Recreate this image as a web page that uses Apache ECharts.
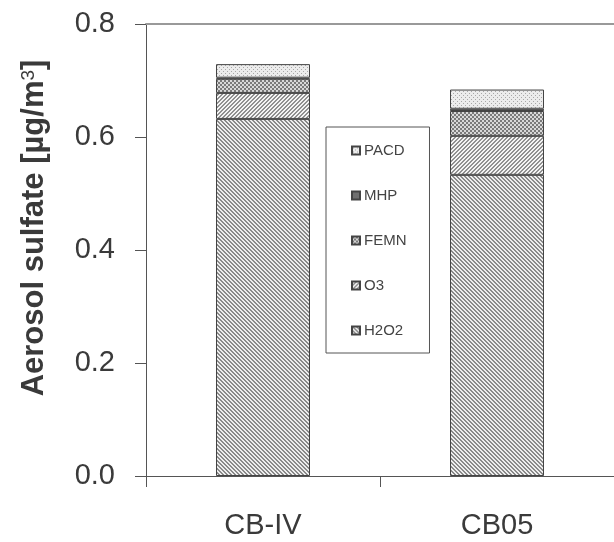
<!DOCTYPE html>
<html>
<head>
<meta charset="utf-8">
<script src="https://cdn.jsdelivr.net/npm/echarts@6/dist/echarts.min.js"></script>
<style>
html,body{margin:0;padding:0;background:#fff;}
#chart{width:614px;height:542px;}
</style>
</head>
<body>
<div id="chart"></div>
<script>
var categories = ['CB-IV', 'CB05'];
var h2o2 = [0.632, 0.533];
var o3 = [0.046, 0.069];
var femn = [0.025, 0.044];
var mhp = [0.002, 0.004];
var pacd = [0.024, 0.034];
var yTicks = [0, 0.8, 0.2]; // min, max, step

// fill patterns, drawn on small canvases
function pattern(kind){
  var c = document.createElement('canvas');
  var s = 4;
  c.width = s; c.height = s;
  var ctx = c.getContext('2d');
  var i;
  if (kind == 'h2o2') {
    ctx.fillStyle = '#eeeeee'; ctx.fillRect(0,0,s,s);
    ctx.fillStyle = '#8a8a8a';
    for (i = 0; i < s; i++) { ctx.fillRect(i,i,1,1); ctx.fillRect((i+1)%s,i,1,1); }
  } else if (kind == 'o3') {
    ctx.fillStyle = '#f4f4f4'; ctx.fillRect(0,0,s,s);
    ctx.fillStyle = '#909090';
    for (i = 0; i < s; i++) { ctx.fillRect(s-1-i,i,1,1); ctx.fillRect((s-i)%s,i,1,1); }
  } else if (kind == 'femn') {
    ctx.fillStyle = '#d8d8d8'; ctx.fillRect(0,0,s,s);
    ctx.fillStyle = '#7a7a7a';
    ctx.fillRect(0,0,2,2); ctx.fillRect(2,2,2,2);
  } else if (kind == 'mhp') {
    ctx.fillStyle = '#707070'; ctx.fillRect(0,0,s,s);
  } else {
    ctx.fillStyle = '#ececec'; ctx.fillRect(0,0,s,s);
    ctx.fillStyle = '#a8a8a8';
    ctx.fillRect(1,1,1,1); ctx.fillRect(3,3,1,1);
  }
  return {image: c, repeat: 'repeat'};
}

function bar(name, data, kind){
  return {
    name: name,
    type: 'bar',
    stack: 'total',
    barWidth: 94,
    data: data,
    itemStyle: {color: pattern(kind), borderColor: '#444', borderWidth: 1}
  };
}

var font = '"Liberation Sans", Arial, sans-serif';
var chart = echarts.init(document.getElementById('chart'));
var option = {
  backgroundColor: '#fff',
  animation: false,
  grid: {left: 146, right: -4, top: 24, bottom: 66, containLabel: false},
  legend: {
    orient: 'vertical',
    left: 326,
    top: 127,
    padding: [16, 23, 15, 25],
    itemGap: 30,
    itemWidth: 8,
    itemHeight: 8,
    icon: 'rect',
    borderColor: '#555',
    borderWidth: 1,
    backgroundColor: '#fff',
    textStyle: {fontFamily: font, fontSize: 15, color: '#444', padding: [0,0,0,-1]},
    data: ['PACD', 'MHP', 'FEMN', 'O3', 'H2O2']
  },
  xAxis: [{
    type: 'category',
    data: categories,
    axisLine: {lineStyle: {color: '#555', width: 1}},
    axisTick: {show: true, length: 11, lineStyle: {color: '#555'}},
    axisLabel: {margin: 35, fontFamily: font, fontSize: 29, color: '#3a3a3a'}
  }, {
    type: 'category',
    position: 'top',
    data: categories,
    axisLine: {lineStyle: {color: '#999', width: 2}},
    axisTick: {show: false},
    axisLabel: {show: false}
  }],
  yAxis: {
    type: 'value',
    min: yTicks[0],
    max: yTicks[1],
    interval: yTicks[2],
    name: '{a|Aerosol sulfate [\u00b5g/m}{s|3}{a|]}',
    nameLocation: 'middle',
    nameGap: 96,
    nameTextStyle: {
      fontFamily: font, fontSize: 31, fontWeight: 'bold', color: '#3a3a3a', padding: [0,0,0,44],
      rich: {
        a: {fontFamily: font, fontSize: 31, fontWeight: 'bold', color: '#3a3a3a'},
        s: {fontFamily: font, fontSize: 19, fontWeight: 'normal', color: '#3a3a3a', verticalAlign: 'top'}
      }
    },
    axisLine: {show: true, lineStyle: {color: '#555', width: 1}},
    axisTick: {show: true, length: 11, lineStyle: {color: '#555'}},
    splitLine: {show: false},
    axisLabel: {margin: 31, fontFamily: font, fontSize: 29, color: '#3a3a3a',
      formatter: function(v){ return v.toFixed(1); }}
  },
  series: [
    bar('H2O2', h2o2, 'h2o2'),
    bar('O3', o3, 'o3'),
    bar('FEMN', femn, 'femn'),
    bar('MHP', mhp, 'mhp'),
    bar('PACD', pacd, 'pacd')
  ]
};
chart.setOption(option);
</script>
</body>
</html>
